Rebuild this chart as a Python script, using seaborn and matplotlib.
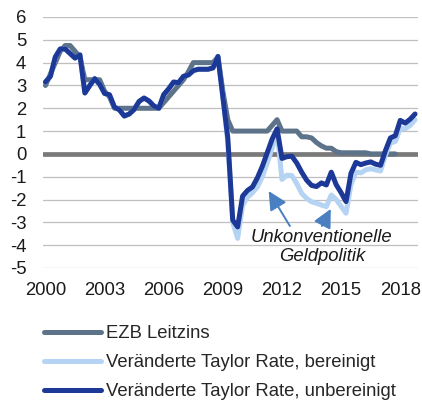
import numpy as np
import pandas as pd
import matplotlib
matplotlib.use("Agg")
import matplotlib.pyplot as plt
from matplotlib.lines import Line2D
import seaborn as sns

# Quarterly series, 2000 Q1 .. 2018 Q4
quarters = np.arange(2000, 2019, 0.25)

ezb_leitzins = [
    3.0, 3.5, 4.0, 4.5, 4.75, 4.75, 4.5, 4.25,
    3.25, 3.25, 3.25, 3.25, 2.75, 2.5, 2.0, 2.0,
    2.0, 2.0, 2.0, 2.0, 2.0, 2.0, 2.0, 2.0,
    2.25, 2.5, 2.75, 3.0, 3.25, 3.6, 4.0, 4.0,
    4.0, 4.0, 4.0, 4.25, 2.75, 1.5, 1.0, 1.0,
    1.0, 1.0, 1.0, 1.0, 1.0, 1.0, 1.25, 1.5,
    1.0, 1.0, 1.0, 1.0, 0.75, 0.75, 0.7, 0.5,
    0.35, 0.25, 0.25, 0.1, 0.05, 0.05, 0.05, 0.05,
    0.05, 0.05, 0.0, 0.0, 0.0, 0.0, 0.0, 0.0,
    np.nan, np.nan, np.nan, np.nan,
]

taylor_unbereinigt = [
    3.15, 3.4, 4.25, 4.6, 4.6, 4.4, 4.2, 4.34,
    2.67, 3.0, 3.3, 3.05, 2.65, 2.59, 2.05, 1.93,
    1.66, 1.75, 1.95, 2.3, 2.45, 2.32, 2.1, 2.0,
    2.6, 2.85, 3.15, 3.12, 3.4, 3.46, 3.65, 3.71,
    3.71, 3.71, 3.77, 4.27, 2.5, 0.7, -2.9, -3.2,
    -1.85, -1.6, -1.45, -1.05, -0.55, 0.05, 0.65, 1.1,
    -0.2, -0.12, -0.1, -0.4, -0.8, -1.15, -1.38, -1.43,
    -1.27, -1.36, -0.8, -1.35, -1.7, -2.09, -0.85, -0.37,
    -0.47, -0.4, -0.35, -0.45, -0.5, 0.15, 0.7, 0.8,
    1.47, 1.35, 1.52, 1.75,
]

taylor_bereinigt = taylor_unbereinigt[:36] + [
    2.5, 0.5, -3.0, -3.7,
    -2.25, -1.9, -1.7, -1.45, -1.0, -0.4, 0.25, 0.98,
    -1.12, -0.93, -0.95, -1.3, -1.73, -1.95, -2.1, -2.16,
    -2.24, -2.31, -1.8, -2.0, -2.3, -2.6, -1.35, -0.8,
    -0.83, -0.7, -0.65, -0.7, -0.75, -0.05, 0.47, 0.55,
    1.12, 1.1, 1.25, 1.5,
]

series_names = [
    "EZB Leitzins",
    "Veränderte Taylor Rate, bereinigt",
    "Veränderte Taylor Rate, unbereinigt",
]
series_colors = ["#5d7389", "#b5d3f2", "#1d3997"]
year_ticks = [2000, 2003, 2006, 2009, 2012, 2015, 2018]
y_ticks = list(range(-5, 7))

idx = np.arange(len(quarters))
frames = []
for name, vals in zip(series_names, [ezb_leitzins, taylor_bereinigt, taylor_unbereinigt]):
    frames.append(pd.DataFrame({"q": idx, "wert": vals, "serie": name}))
df = pd.concat(frames, ignore_index=True).dropna()

sns.set_theme(style="white")
plt.rcParams["font.family"] = ["Liberation Sans", "DejaVu Sans"]
fs = 13.3

fig = plt.figure(figsize=(4.22, 4.03), dpi=100)
ax = fig.add_axes([43 / 422, (403 - 268) / 403, (418 - 43) / 422, (268 - 17) / 403])

for y in y_ticks:
    if y != 0:
        ax.axhline(y, color="#bfbfbf", lw=0.9, zorder=0)
ax.axhline(0, color="#7a7a7a", lw=3.4, zorder=1)

sns.lineplot(
    data=df, x="q", y="wert", hue="serie", hue_order=series_names,
    palette=dict(zip(series_names, series_colors)), estimator=None,
    linewidth=3.6, legend=False, ax=ax, zorder=3,
    solid_capstyle="round", solid_joinstyle="round",
)

ax.set_xlim(-0.5, 75.6)
ax.set_ylim(-5, 6)
tick_pos = [year_ticks.index(y) * 12 for y in year_ticks]
ax.set_xticks(tick_pos)
ax.set_xticklabels([str(y) for y in year_ticks], fontsize=fs)
ax.set_yticks(y_ticks)
ax.set_yticklabels([str(y) for y in y_ticks], fontsize=fs)
ax.tick_params(axis="both", length=0, colors="#1a1a1a")
ax.tick_params(axis="y", pad=12)
ax.tick_params(axis="x", pad=10)
ax.set_xlabel("")
ax.set_ylabel("")
for s in ax.spines.values():
    s.set_visible(False)

# Annotation with two arrows
arrow_kw = dict(arrowstyle="-|>", color="#4a7fc1", lw=1.4, mutation_scale=28,
                shrinkA=0, shrinkB=0)
ax.annotate("", xy=(45.3, -1.63), xytext=(49.6, -3.16), arrowprops=arrow_kw, zorder=5)
ax.annotate("", xy=(57.9, -2.41), xytext=(56.1, -3.16), arrowprops=arrow_kw, zorder=5)
ax.text(56.1, -4.1, "Unkonventionelle\nGeldpolitik", ha="center", va="center",
        fontsize=fs, style="italic", color="#1a1a1a", linespacing=1.15, zorder=6)

handles = [Line2D([], [], color=c, lw=3.6, solid_capstyle="round") for c in series_colors]
fig.legend(handles, series_names, loc="upper left", bbox_to_anchor=(44 / 422, 0.193),
           frameon=False, fontsize=fs, handlelength=3.1, handletextpad=0.25,
           labelspacing=0.65, borderpad=0, borderaxespad=0)

fig.savefig("out.png", dpi=100, facecolor="white")
